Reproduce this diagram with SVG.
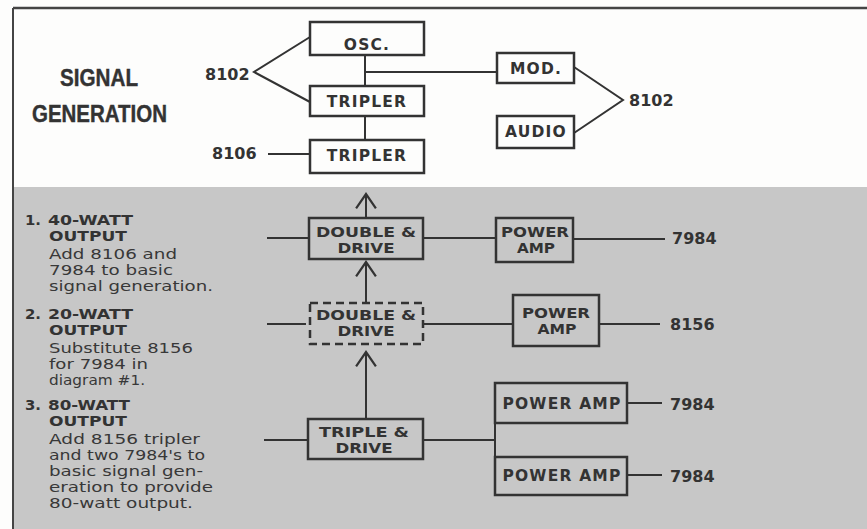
<svg xmlns="http://www.w3.org/2000/svg" width="867" height="529" viewBox="0 0 867 529">
<style>
.box{fill:none;stroke:#333;stroke-width:2.5}
.dash{fill:none;stroke:#333;stroke-width:2.5;stroke-dasharray:8 5}
.ln{fill:none;stroke:#333;stroke-width:2}
.bl{font-family:"DejaVu Sans",sans-serif;font-weight:bold;font-size:15.5px;fill:#333;letter-spacing:1.2px;text-anchor:middle}
.b2{font-family:"DejaVu Sans",sans-serif;font-weight:bold;font-size:13.7px;fill:#333;text-anchor:middle}
.num{font-family:"DejaVu Sans",sans-serif;font-weight:bold;font-size:16px;fill:#333}
.title{font-family:"Liberation Sans",sans-serif;font-weight:bold;font-size:23px;fill:#333;stroke:#333;stroke-width:0.4}
.hd{font-family:"DejaVu Sans",sans-serif;font-weight:bold;font-size:13.7px;fill:#333}
.tx{font-family:"DejaVu Sans",sans-serif;font-size:13.7px;fill:#383838}
</style>
<defs>
<marker id="arr" markerUnits="userSpaceOnUse" markerWidth="20" markerHeight="22" refX="14" refY="10" orient="auto" viewBox="0 0 16 20">
<path d="M1,1 L14,10 L1,19" fill="none" stroke="#333" stroke-width="2"/>
</marker>
</defs>
<rect x="0" y="0" width="867" height="529" fill="#fdfdfc"/>
<rect x="13" y="187" width="854" height="342" fill="#c7c7c7"/>
<line x1="13" y1="8" x2="867" y2="8" stroke="#444" stroke-width="2.5"/>
<line x1="13" y1="8" x2="13" y2="529" stroke="#444" stroke-width="2"/>

<g id="title">
<text class="title" x="60" y="86" textLength="78" lengthAdjust="spacingAndGlyphs">SIGNAL</text>
<text class="title" x="32" y="122" textLength="135" lengthAdjust="spacingAndGlyphs">GENERATION</text>
</g>

<g id="notes">
<text class="hd" x="25" y="225" textLength="16" lengthAdjust="spacingAndGlyphs">1.</text>
<text class="hd" x="48" y="225" textLength="85" lengthAdjust="spacingAndGlyphs">40-WATT</text>
<text class="hd" x="49" y="241" textLength="78" lengthAdjust="spacingAndGlyphs">OUTPUT</text>
<text class="tx" x="49" y="259" textLength="128" lengthAdjust="spacingAndGlyphs">Add 8106 and</text>
<text class="tx" x="49" y="275" textLength="124" lengthAdjust="spacingAndGlyphs">7984 to basic</text>
<text class="tx" x="49" y="291" textLength="164" lengthAdjust="spacingAndGlyphs">signal generation.</text>
<text class="hd" x="25" y="319" textLength="16" lengthAdjust="spacingAndGlyphs">2.</text>
<text class="hd" x="48" y="319" textLength="85" lengthAdjust="spacingAndGlyphs">20-WATT</text>
<text class="hd" x="49" y="335" textLength="78" lengthAdjust="spacingAndGlyphs">OUTPUT</text>
<text class="tx" x="49" y="353" textLength="144" lengthAdjust="spacingAndGlyphs">Substitute 8156</text>
<text class="tx" x="49" y="369" textLength="99" lengthAdjust="spacingAndGlyphs">for 7984 in</text>
<text class="tx" x="49" y="385" textLength="96" lengthAdjust="spacingAndGlyphs">diagram #1.</text>
<text class="hd" x="25" y="410" textLength="16" lengthAdjust="spacingAndGlyphs">3.</text>
<text class="hd" x="48" y="410" textLength="82" lengthAdjust="spacingAndGlyphs">80-WATT</text>
<text class="hd" x="49" y="426" textLength="78" lengthAdjust="spacingAndGlyphs">OUTPUT</text>
<text class="tx" x="49" y="444" textLength="151" lengthAdjust="spacingAndGlyphs">Add 8156 tripler</text>
<text class="tx" x="49" y="460" textLength="156" lengthAdjust="spacingAndGlyphs">and two 7984's to</text>
<text class="tx" x="49" y="476" textLength="154" lengthAdjust="spacingAndGlyphs">basic signal gen-</text>
<text class="tx" x="49" y="492" textLength="164" lengthAdjust="spacingAndGlyphs">eration to provide</text>
<text class="tx" x="49" y="508" textLength="144" lengthAdjust="spacingAndGlyphs">80-watt output.</text>
</g>

<g id="connectors">
<polyline class="ln" points="310,37 254,72 310,102"/>
<line class="ln" x1="268" y1="154" x2="310" y2="154"/>
<line class="ln" x1="365" y1="55" x2="365" y2="86"/>
<line class="ln" x1="365" y1="72" x2="497" y2="72"/>
<line class="ln" x1="365" y1="116" x2="365" y2="140"/>
<polyline class="ln" points="574,67 623,100 574,133"/>
<line class="ln" x1="366" y1="218" x2="366" y2="194" marker-end="url(#arr)"/>
<line class="ln" x1="267" y1="238" x2="309" y2="238"/>
<line class="ln" x1="423" y1="238" x2="496" y2="238"/>
<line class="ln" x1="573" y1="239" x2="665" y2="239"/>
<line class="ln" x1="366" y1="303" x2="366" y2="262" marker-end="url(#arr)"/>
<line class="ln" x1="267" y1="324" x2="306" y2="324"/>
<line class="ln" x1="423" y1="324" x2="513" y2="324"/>
<line class="ln" x1="599" y1="324" x2="660" y2="324"/>
<line class="ln" x1="366" y1="419" x2="366" y2="352" marker-end="url(#arr)"/>
<line class="ln" x1="264" y1="440" x2="308" y2="440"/>
<line class="ln" x1="423" y1="440" x2="495" y2="440"/>
<line class="ln" x1="495" y1="423" x2="495" y2="457"/>
<line class="ln" x1="627" y1="403" x2="662" y2="403"/>
<line class="ln" x1="627" y1="475" x2="662" y2="475"/>
</g>

<g id="labels">
<text class="num" x="205" y="80">8102</text>
<text class="num" x="212" y="159">8106</text>
<text class="num" x="629" y="106">8102</text>
<text class="num" x="672" y="244">7984</text>
<text class="num" x="670" y="330">8156</text>
<text class="num" x="670" y="410">7984</text>
<text class="num" x="670" y="482">7984</text>
</g>

<g id="osc"><rect class="box" x="310" y="22" width="114" height="33"/><text class="bl" x="367" y="50">OSC.</text></g>
<g id="tripler1"><rect class="box" x="310" y="86" width="114" height="30"/><text class="bl" x="367" y="107">TRIPLER</text></g>
<g id="tripler2"><rect class="box" x="310" y="140" width="114" height="33"/><text class="bl" x="367" y="161">TRIPLER</text></g>
<g id="mod"><rect class="box" x="497" y="53" width="77" height="30"/><text class="bl" x="536" y="74">MOD.</text></g>
<g id="audio"><rect class="box" x="497" y="116" width="77" height="32"/><text class="bl" x="536" y="137">AUDIO</text></g>

<g id="dd1"><rect class="box" x="309" y="218" width="114" height="41"/><text class="b2" x="366" y="237" textLength="100" lengthAdjust="spacingAndGlyphs">DOUBLE &amp;</text><text class="b2" x="366" y="253" textLength="57" lengthAdjust="spacingAndGlyphs">DRIVE</text></g>
<g id="pa1"><rect class="box" x="496" y="218" width="77" height="44"/><text class="b2" x="535" y="237" textLength="68" lengthAdjust="spacingAndGlyphs">POWER</text><text class="b2" x="536" y="253" textLength="38" lengthAdjust="spacingAndGlyphs">AMP</text></g>
<g id="dd2"><rect class="dash" x="310" y="303" width="113" height="41"/><text class="b2" x="366" y="320" textLength="100" lengthAdjust="spacingAndGlyphs">DOUBLE &amp;</text><text class="b2" x="366" y="336" textLength="57" lengthAdjust="spacingAndGlyphs">DRIVE</text></g>
<g id="pa2"><rect class="box" x="513" y="295" width="86" height="51"/><text class="b2" x="556" y="318" textLength="68" lengthAdjust="spacingAndGlyphs">POWER</text><text class="b2" x="557" y="334" textLength="39" lengthAdjust="spacingAndGlyphs">AMP</text></g>
<g id="td"><rect class="box" x="308" y="419" width="115" height="40"/><text class="b2" x="364" y="437" textLength="90" lengthAdjust="spacingAndGlyphs">TRIPLE &amp;</text><text class="b2" x="364" y="453" textLength="57" lengthAdjust="spacingAndGlyphs">DRIVE</text></g>
<g id="pa3"><rect class="box" x="495" y="383" width="132" height="40"/><text class="bl" x="562" y="409">POWER AMP</text></g>
<g id="pa4"><rect class="box" x="495" y="457" width="132" height="38"/><text class="bl" x="562" y="481">POWER AMP</text></g>
</svg>
